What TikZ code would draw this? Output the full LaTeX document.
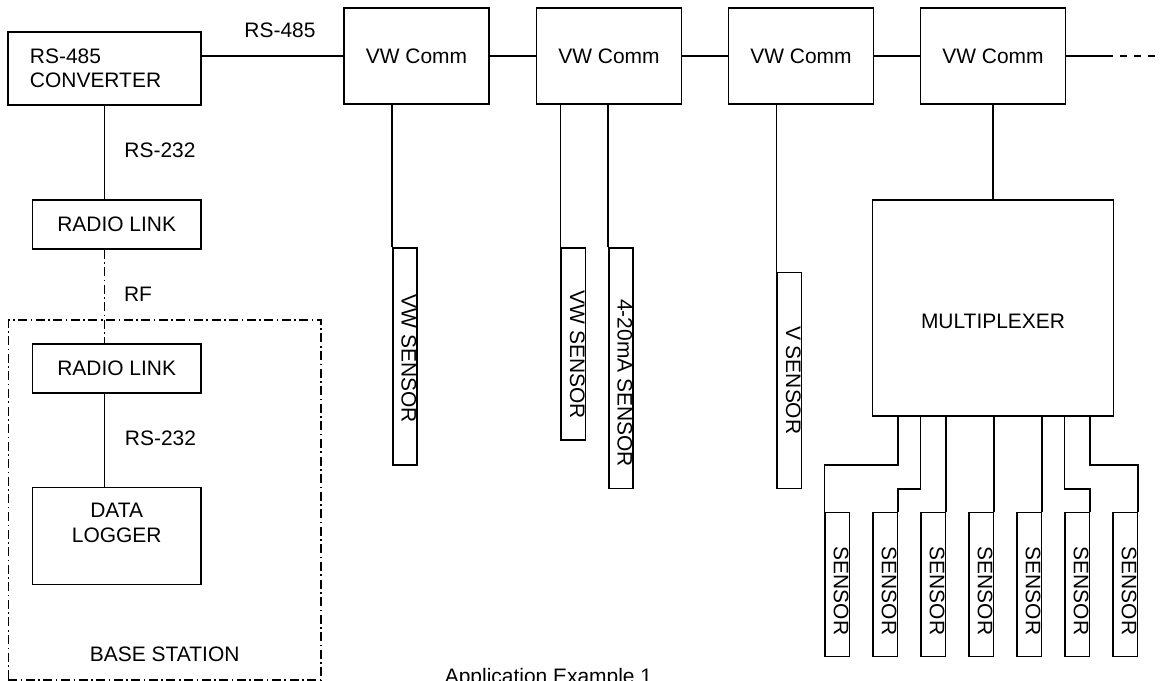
\documentclass[tikz,border=0pt]{standalone}
\usepackage{fontspec}
\setmainfont{Liberation Sans}
\usepackage{graphicx}
\begin{document}
\begin{tikzpicture}[
        x=0.025cm, y=-0.025cm,
        every node/.style={font=\fontsize{14.9}{17.4}\selectfont},
        box/.style={rectangle, draw, line width=1pt, inner sep=0pt},
        comm/.style={box, minimum width=3.625cm, minimum height=2.4cm},
        radio/.style={box, minimum width=4.2175cm, minimum height=1.22cm},
        sensor/.style={box, minimum width=0.6075cm},
        link/.style={line width=1pt},
        rflink/.style={line width=1pt, dash pattern=on 6.4pt off 2.5pt on 1.1pt off 2.5pt}
    ]
    \useasboundingbox (0,0) rectangle (1161,681);

    % RS-485 converter
    \node[box, minimum width=4.825cm, minimum height=1.825cm, text width=3.725cm,
          inner xsep=0.55cm, align=left] (conv) at (104.5,68.5) {RS-485\\CONVERTER};

    % VW Comm chain
    \node[comm] (vw1) at (416.5,56) {VW Comm};
    \node[comm] (vw2) at (609,56) {VW Comm};
    \node[comm] (vw3) at (801,56) {VW Comm};
    \node[comm] (vw4) at (993,56) {VW Comm};
    \coordinate (chainbreak) at (1113,56);
    \coordinate (chainend) at (1161,56);

    % Sensors on the chain
    \node[sensor, minimum height=5.425cm] (vwsen1) at (405,356.5)
        {\rotatebox{-90}{\raisebox{5.7pt}{\hspace*{3pt}VW SENSOR}}};
    \node[sensor, minimum height=4.8cm] (vwsen2) at (573.3,344)
        {\rotatebox{-90}{\raisebox{5.7pt}{\hspace*{15.6pt}VW SENSOR}}};
    \node[sensor, minimum height=6cm] (masen) at (621,368.2)
        {\rotatebox{-90}{\raisebox{5.7pt}{\hspace*{21.3pt}4-20mA SENSOR}}};
    \node[sensor, minimum height=5.4cm] (vsen) at (789.3,380.3)
        {\rotatebox{-90}{\raisebox{5.7pt}{V SENSOR}}};

    % Multiplexer
    \node[box, minimum width=6.015cm, minimum height=5.4cm] (mux) at (993,308) {};
    \node (muxtxt) at (993,321) {MULTIPLEXER};

    % Multiplexer sensors
    \node[sensor, minimum height=3.61cm] (s1) at (837.2,584.5) {\rotatebox{-90}{\raisebox{5.7pt}{\hspace*{9.2pt}SENSOR}}};
    \node[sensor, minimum height=3.61cm] (s2) at (885.2,584.5) {\rotatebox{-90}{\raisebox{5.7pt}{\hspace*{9.2pt}SENSOR}}};
    \node[sensor, minimum height=3.61cm] (s3) at (933.2,584.5) {\rotatebox{-90}{\raisebox{5.7pt}{\hspace*{9.2pt}SENSOR}}};
    \node[sensor, minimum height=3.61cm] (s4) at (981.2,584.5) {\rotatebox{-90}{\raisebox{5.7pt}{\hspace*{9.2pt}SENSOR}}};
    \node[sensor, minimum height=3.61cm] (s5) at (1029.2,584.5) {\rotatebox{-90}{\raisebox{5.7pt}{\hspace*{9.2pt}SENSOR}}};
    \node[sensor, minimum height=3.61cm] (s6) at (1077.2,584.5) {\rotatebox{-90}{\raisebox{5.7pt}{\hspace*{9.2pt}SENSOR}}};
    \node[sensor, minimum height=3.61cm] (s7) at (1125.2,584.5) {\rotatebox{-90}{\raisebox{5.7pt}{\hspace*{9.2pt}SENSOR}}};

    % Radio links and base station
    \node[radio] (radio1) at (116.7,224.5) {RADIO LINK};
    \node[box, dash pattern=on 6.4pt off 2.5pt on 1.1pt off 2.5pt,
          minimum width=7.8175cm, minimum height=9cm] (base) at (164.65,500) {};
    \node[radio] (radio2) at (116.7,368.5) {RADIO LINK};
    \node[radio, minimum height=2.415cm] (logger) at (116.7,536) {};
    \node[align=center] (loggertxt) at (116.7,523) {DATA\\LOGGER};
    \node (basetxt) at (164.7,654.5) {BASE STATION};

    % Labels
    \node (lbl485) at (280,30) {RS-485};
    \node (lbl232a) at (160,150) {RS-232};
    \node (lblrf) at (138,294.5) {RF};
    \node (lbl232b) at (160.5,438) {RS-232};
    \node[anchor=base] (caption) at (548.5,683) {Application Example 1};

    % Connections
    \draw[link] (conv.east |- vw1.west) -- (vw1.west);
    \draw[link] (vw1) -- (vw2);
    \draw[link] (vw2) -- (vw3);
    \draw[link] (vw3) -- (vw4);
    \draw[link] (vw4.east) -- (chainbreak);
    \draw[link, dash pattern=on 5pt off 5pt, dash phase=5pt] (chainbreak) -- (chainend);

    \draw[link] (vwsen1.north west) -- (vwsen1.north west |- vw1.south);
    \draw[link] (vwsen2.north west) -- (vwsen2.north west |- vw2.south);
    \draw[link] (masen.north west) -- (masen.north west |- vw2.south);
    \draw[link] (vsen.north west) -- (vsen.north west |- vw3.south);
    \draw[link] (vw4) -- (mux);

    \draw[link] (mux.south -| s2.north east) -- ++(0,48.3) -| (s1.north west);
    \draw[link] (mux.south -| s3.north west) -- ++(0,72.3) -| (s2.north east);
    \draw[link] (mux.south -| s3.north east) -- (s3.north east);
    \draw[link] (mux.south -| s4.north east) -- (s4.north east);
    \draw[link] (mux.south -| s5.north east) -- (s5.north east);
    \draw[link] (mux.south -| s6.north west) -- ++(0,72.3) -| (s6.north east);
    \draw[link] (mux.south -| s6.north east) -- ++(0,48.3) -| (s7.north east);

    \draw[link] (conv.south) -- (conv.south |- radio1.north);
    \draw[rflink] (conv.south |- radio1.south) -- (conv.south |- radio2.north);
    \draw[link] (conv.south |- radio2.south) -- (conv.south |- logger.north);

    \end{tikzpicture}
\end{document}
